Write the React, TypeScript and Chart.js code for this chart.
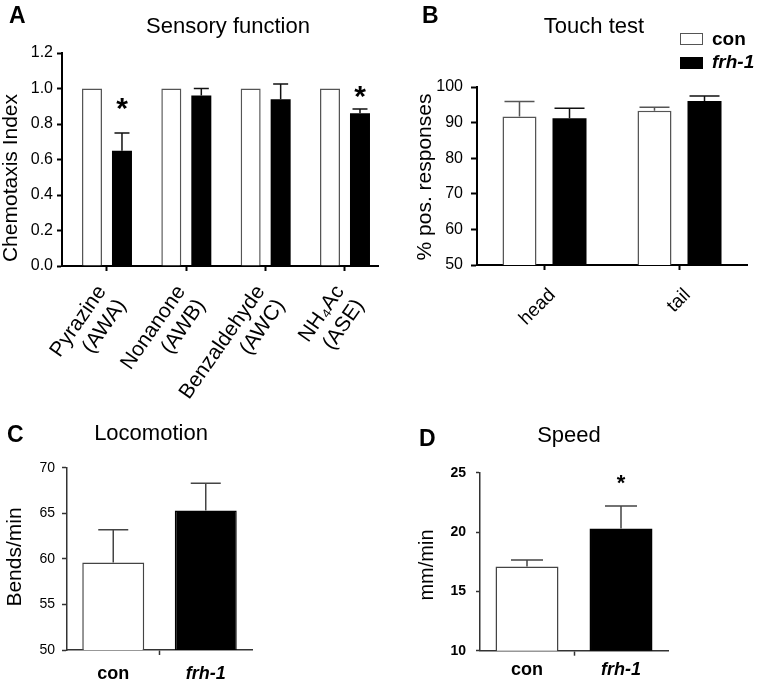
import React, { useEffect, useRef } from "react";
import { Chart, registerables } from "chart.js";

Chart.register(...registerables);

const FONT = "'Liberation Sans', Arial, Helvetica, sans-serif";
Chart.defaults.font.family = FONT;
Chart.defaults.color = "#000";

// ---------- Panel A: Sensory function (Chemotaxis Index) ----------
const chemoCategories: string[][] = [
  ["Pyrazine", "(AWA)"],
  ["Nonanone", "(AWB)"],
  ["Benzaldehyde", "(AWC)"],
  ["NH\u2084Ac", "(ASE)"],
];
const chemoCon = [1.0, 1.0, 1.0, 1.0];
const chemoConErr = [0, 0, 0, 0];
const chemoFrh = [0.65, 0.96, 0.94, 0.86];
const chemoFrhErr = [0.1, 0.04, 0.085, 0.025];
const chemoStarIndex = [0, 3];
const chemoStarLevel = [0.913, 0.98];

// ---------- Panel B: Touch test ----------
const touchCategories = ["head", "tail"];
const touchCon = [91.7, 93.3];
const touchConErr = [4.2, 1.0];
const touchFrh = [91.2, 96.1];
const touchFrhErr = [2.8, 1.4];

// ---------- Panel C: Locomotion ----------
const groupLabels = ["con", "frh-1"];
const locoValues = [59.6, 65.3];
const locoErr = [3.6, 3.0];

// ---------- Panel D: Speed ----------
const speedValues = [17.1, 20.3];
const speedErr = [0.55, 1.9];
const speedStarIndex = [1];
const speedStarLevel = [24.4];

const seriesNames = ["con", "frh-1"];

type Box = { left: number; top: number; width: number; height: number };
type Area = { left: number; top: number; right: number; bottom: number };

function fixed(box: Box, area: Area) {
  return {
    padding: {
      left: 0,
      top: area.top - box.top,
      right: box.left + box.width - area.right,
      bottom: 0,
    },
    yW: area.left - box.left,
    xH: box.top + box.height - area.bottom,
  };
}

function errorBars(errs: number[][], colors: string[], capW: number, lineW: number) {
  return {
    id: "errorBars",
    afterDatasetsDraw(chart: any) {
      const ctx = chart.ctx;
      const ys = chart.scales.y;
      chart.data.datasets.forEach((ds: any, di: number) => {
        const e = errs[di];
        if (!e) return;
        const meta = chart.getDatasetMeta(di);
        meta.data.forEach((bar: any, i: number) => {
          if (!e[i]) return;
          const raw = ds.data[i];
          const v = typeof raw === "number" ? raw : raw.y;
          const yTop = ys.getPixelForValue(v + e[i]);
          ctx.save();
          ctx.strokeStyle = colors[di];
          ctx.lineWidth = lineW;
          ctx.beginPath();
          ctx.moveTo(bar.x, bar.y);
          ctx.lineTo(bar.x, yTop);
          ctx.moveTo(bar.x - capW / 2, yTop);
          ctx.lineTo(bar.x + capW / 2, yTop);
          ctx.stroke();
          ctx.restore();
        });
      });
    },
  };
}

function txt(
  ctx: CanvasRenderingContext2D,
  s: string,
  x: number,
  y: number,
  font: string,
  align: CanvasTextAlign = "center",
  baseline: CanvasTextBaseline = "alphabetic",
  rot = 0
) {
  ctx.save();
  ctx.font = font;
  ctx.fillStyle = "#000";
  ctx.textAlign = align;
  ctx.textBaseline = baseline;
  ctx.translate(x, y);
  if (rot) ctx.rotate(rot);
  ctx.fillText(s, 0, 0);
  ctx.restore();
}

function star(ctx: CanvasRenderingContext2D, x: number, cy: number, size: number) {
  ctx.save();
  ctx.font = `bold ${size}px ${FONT}`;
  ctx.fillStyle = "#000";
  const m = ctx.measureText("*");
  const asc = m.actualBoundingBoxAscent;
  const desc = m.actualBoundingBoxDescent;
  ctx.textAlign = "center";
  ctx.textBaseline = "alphabetic";
  ctx.fillText("*", x, cy + (asc - desc) / 2);
  ctx.restore();
}

function overlay(box: Box, draw: (ctx: CanvasRenderingContext2D, chart: any) => void) {
  return {
    id: "overlay",
    afterDraw(chart: any) {
      const ctx = chart.ctx as CanvasRenderingContext2D;
      ctx.save();
      ctx.translate(-box.left, -box.top);
      draw(ctx, chart);
      ctx.restore();
    },
  };
}

function starsOn(chart: any, box: Box, ctx: CanvasRenderingContext2D, ds: number, idx: number[], lv: number[], size: number) {
  const meta = chart.getDatasetMeta(ds);
  const ys = chart.scales.y;
  idx.forEach((i, k) => {
    const bar = meta.data[i];
    star(ctx, bar.x + box.left, ys.getPixelForValue(lv[k]) + box.top, size);
  });
}

const axisGrid = (color: string, w: number, len: number) => ({
  display: true,
  drawOnChartArea: false,
  drawTicks: true,
  tickLength: len,
  tickWidth: w,
  tickColor: color,
  color,
  offset: false,
});

// ---------------- Panel A ----------------
const boxA: Box = { left: 0, top: 0, width: 420, height: 420 };
const areaA: Area = { left: 62, top: 53, right: 378, bottom: 266 };

function buildA() {
  const f = fixed(boxA, areaA);
  return {
    type: "bar",
    data: {
      datasets: [
        {
          label: seriesNames[0],
          data: chemoCon.map((v, i) => ({ x: i, y: v })),
          backgroundColor: "#ffffff",
          borderColor: "#555555",
          borderWidth: 1.5,
          categoryPercentage: 0.756,
          barPercentage: 0.667,
        },
        {
          label: seriesNames[1],
          data: chemoFrh.map((v, i) => ({ x: i, y: v })),
          backgroundColor: "#000000",
          borderColor: "#000000",
          borderWidth: 0,
          categoryPercentage: 0.756,
          barPercentage: 0.667,
        },
      ],
    },
    options: {
      responsive: false,
      animation: false,
      devicePixelRatio: 1,
      layout: { padding: f.padding },
      plugins: { legend: { display: false }, title: { display: false }, tooltip: { enabled: false } },
      scales: {
        x: {
          type: "linear",
          min: -0.567,
          max: 3.416,
          offset: false,
          afterFit: (s: any) => {
            s.height = f.xH;
          },
          grid: axisGrid("#000", 2, 5),
          border: { display: true, color: "#000", width: 2 },
          ticks: {
            stepSize: 1,
            includeBounds: false,
            autoSkip: false,
            minRotation: 55,
            maxRotation: 55,
            padding: 10,
            labelOffset: -5,
            color: "#000",
            font: { family: FONT, size: 21, lineHeight: 1.15 },
            callback: (v: number) => {
              const i = Math.round(v);
              return Math.abs(v - i) < 1e-6 && chemoCategories[i] ? chemoCategories[i] : "";
            },
          },
        },
        y: {
          min: 0,
          max: 1.2,
          afterFit: (s: any) => {
            s.width = f.yW;
          },
          grid: axisGrid("#000", 2, 5),
          border: { display: true, color: "#000", width: 2 },
          ticks: {
            stepSize: 0.2,
            padding: 4,
            color: "#000",
            font: { family: FONT, size: 16 },
            callback: (v: number) => Number(v).toFixed(1),
          },
        },
      },
    },
    plugins: [
      errorBars([chemoConErr, chemoFrhErr], ["#555", "#111"], 15, 1.5),
      overlay(boxA, (ctx, chart) => {
        txt(ctx, "A", 9, 23, `bold 23px ${FONT}`, "left");
        txt(ctx, "Sensory function", 228, 33, `22px ${FONT}`);
        txt(ctx, "Chemotaxis Index", 11, 178, `21px ${FONT}`, "center", "middle", -Math.PI / 2);
        starsOn(chart, boxA, ctx, 1, chemoStarIndex, chemoStarLevel, 30);
      }),
    ],
  };
}

// ---------------- Panel B ----------------
const boxB: Box = { left: 380, top: 0, width: 378, height: 340 };
const areaB: Area = { left: 477, top: 87, right: 747, bottom: 265 };

function buildB() {
  const f = fixed(boxB, areaB);
  return {
    type: "bar",
    data: {
      labels: touchCategories,
      datasets: [
        {
          label: seriesNames[0],
          data: touchCon,
          backgroundColor: "#ffffff",
          borderColor: "#555555",
          borderWidth: 1.5,
          categoryPercentage: 0.741,
          barPercentage: 0.68,
        },
        {
          label: seriesNames[1],
          data: touchFrh,
          backgroundColor: "#000000",
          borderColor: "#000000",
          borderWidth: 0,
          categoryPercentage: 0.741,
          barPercentage: 0.68,
        },
      ],
    },
    options: {
      responsive: false,
      animation: false,
      devicePixelRatio: 1,
      layout: { padding: f.padding },
      plugins: { legend: { display: false }, title: { display: false }, tooltip: { enabled: false } },
      scales: {
        x: {
          afterFit: (s: any) => {
            s.height = f.xH;
          },
          grid: axisGrid("#000", 2, 5),
          border: { display: true, color: "#000", width: 2 },
          ticks: {
            autoSkip: false,
            minRotation: 45,
            maxRotation: 45,
            padding: 14,
            labelOffset: 8,
            color: "#000",
            font: { family: FONT, size: 19, lineHeight: 1.2 },
          },
        },
        y: {
          min: 50,
          max: 100,
          afterFit: (s: any) => {
            s.width = f.yW;
          },
          grid: axisGrid("#000", 2, 6),
          border: { display: true, color: "#000", width: 2 },
          ticks: { stepSize: 10, padding: 8, color: "#000", font: { family: FONT, size: 16 } },
        },
      },
    },
    plugins: [
      errorBars([touchConErr, touchFrhErr], ["#555", "#111"], 30, 1.5),
      overlay(boxB, (ctx) => {
        txt(ctx, "B", 422, 23, `bold 23px ${FONT}`, "left");
        txt(ctx, "Touch test", 594, 33, `22px ${FONT}`);
        txt(ctx, "% pos. responses", 425, 177, `21px ${FONT}`, "center", "middle", -Math.PI / 2);
        // legend
        ctx.save();
        ctx.fillStyle = "#fff";
        ctx.strokeStyle = "#555";
        ctx.lineWidth = 1;
        ctx.fillRect(680.5, 33.5, 22, 11);
        ctx.strokeRect(680.5, 33.5, 22, 11);
        ctx.fillStyle = "#000";
        ctx.fillRect(680, 57, 23, 12);
        ctx.restore();
        txt(ctx, seriesNames[0], 712, 45, `bold 19px ${FONT}`, "left");
        txt(ctx, seriesNames[1], 712, 68, `italic bold 19px ${FONT}`, "left");
      }),
    ],
  };
}

// ---------------- Panel C ----------------
const boxC: Box = { left: 0, top: 400, width: 300, height: 282 };
const areaC: Area = { left: 67, top: 467.7, right: 252, bottom: 650 };

const groupTickFont = (ctx: any) => ({
  family: FONT,
  size: 18,
  weight: "bold",
  style: ctx.index === 1 ? "italic" : "normal",
  lineHeight: 1.2,
});

function buildC() {
  const f = fixed(boxC, areaC);
  return {
    type: "bar",
    data: {
      labels: groupLabels,
      datasets: [
        {
          label: "Bends/min",
          data: locoValues,
          backgroundColor: ["#ffffff", "#000000"],
          borderColor: ["#444444", "#000000"],
          borderWidth: 1.5,
          categoryPercentage: 1,
          barPercentage: 0.67,
        },
      ],
    },
    options: {
      responsive: false,
      animation: false,
      devicePixelRatio: 1,
      layout: { padding: f.padding },
      plugins: { legend: { display: false }, title: { display: false }, tooltip: { enabled: false } },
      scales: {
        x: {
          afterFit: (s: any) => {
            s.height = f.xH;
          },
          grid: {
            display: true,
            drawOnChartArea: false,
            drawTicks: true,
            tickLength: 5,
            tickWidth: 1.5,
            offset: true,
            tickColor: (c: any) => (c.index === 1 ? "#333" : "rgba(0,0,0,0)"),
          },
          border: { display: true, color: "#333", width: 1.5 },
          ticks: { padding: 8, color: "#000", font: groupTickFont },
        },
        y: {
          min: 50,
          max: 70,
          afterFit: (s: any) => {
            s.width = f.yW;
          },
          grid: axisGrid("#333", 1.5, 5),
          border: { display: true, color: "#333", width: 1.5 },
          ticks: { stepSize: 5, padding: 7, color: "#000", font: { family: FONT, size: 14 } },
        },
      },
    },
    plugins: [
      errorBars([locoErr], ["#444"], 30, 1.5),
      overlay(boxC, (ctx) => {
        txt(ctx, "C", 7, 442, `bold 23px ${FONT}`, "left");
        txt(ctx, "Locomotion", 151, 440, `22px ${FONT}`);
        txt(ctx, "Bends/min", 15, 557, `21px ${FONT}`, "center", "middle", -Math.PI / 2);
      }),
    ],
  };
}

// ---------------- Panel D ----------------
const boxD: Box = { left: 380, top: 400, width: 378, height: 282 };
const areaD: Area = { left: 480, top: 472.7, right: 668, bottom: 650.7 };

function buildD() {
  const f = fixed(boxD, areaD);
  return {
    type: "bar",
    data: {
      labels: groupLabels,
      datasets: [
        {
          label: "mm/min",
          data: speedValues,
          backgroundColor: ["#ffffff", "#000000"],
          borderColor: ["#444444", "#000000"],
          borderWidth: 1.5,
          categoryPercentage: 1,
          barPercentage: 0.67,
        },
      ],
    },
    options: {
      responsive: false,
      animation: false,
      devicePixelRatio: 1,
      layout: { padding: f.padding },
      plugins: { legend: { display: false }, title: { display: false }, tooltip: { enabled: false } },
      scales: {
        x: {
          afterFit: (s: any) => {
            s.height = f.xH;
          },
          grid: {
            display: true,
            drawOnChartArea: false,
            drawTicks: true,
            tickLength: 5,
            tickWidth: 1.5,
            offset: true,
            tickColor: (c: any) => (c.index === 1 ? "#333" : "rgba(0,0,0,0)"),
          },
          border: { display: true, color: "#333", width: 1.5 },
          ticks: { padding: 4, color: "#000", font: groupTickFont },
        },
        y: {
          min: 10,
          max: 25,
          afterFit: (s: any) => {
            s.width = f.yW;
          },
          grid: axisGrid("#333", 1.5, 4),
          border: { display: true, color: "#333", width: 1.5 },
          ticks: { stepSize: 5, padding: 10, color: "#000", font: { family: FONT, size: 14, weight: "bold" } },
        },
      },
    },
    plugins: [
      errorBars([speedErr], ["#444"], 32, 1.5),
      overlay(boxD, (ctx, chart) => {
        txt(ctx, "D", 419, 446, `bold 23px ${FONT}`, "left");
        txt(ctx, "Speed", 569, 442, `22px ${FONT}`);
        txt(ctx, "mm/min", 427, 565, `20px ${FONT}`, "center", "middle", -Math.PI / 2);
        starsOn(chart, boxD, ctx, 0, speedStarIndex, speedStarLevel, 22);
      }),
    ],
  };
}

function Panel({ box, build }: { box: Box; build: () => any }) {
  const ref = useRef<HTMLCanvasElement>(null);
  useEffect(() => {
    const chart = new Chart(ref.current as HTMLCanvasElement, build());
    return () => chart.destroy();
  }, []);
  return (
    <canvas
      ref={ref}
      width={box.width}
      height={box.height}
      style={{ position: "absolute", left: box.left, top: box.top, width: box.width, height: box.height }}
    />
  );
}

export default function App() {
  return (
    <div
      style={{
        position: "absolute",
        left: 0,
        top: 0,
        width: 758,
        height: 682,
        background: "#fff",
        overflow: "hidden",
      }}
    >
      <Panel box={boxA} build={buildA} />
      <Panel box={boxB} build={buildB} />
      <Panel box={boxC} build={buildC} />
      <Panel box={boxD} build={buildD} />
    </div>
  );
}
